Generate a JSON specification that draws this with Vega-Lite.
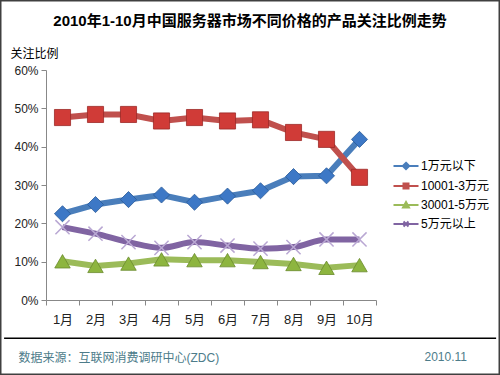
{
  "$schema": "https://vega.github.io/schema/vega-lite/v6.json",
  "width": 330,
  "height": 230,
  "autosize": "none",
  "padding": {"left": 46, "top": 70, "right": 124, "bottom": 75},
  "background": "white",
  "config": {"font": "Liberation Sans, Noto Sans CJK SC", "view": {"stroke": null}},
  "title": {"text": "2010年1-10月中国服务器市场不同价格的产品关注比例走势", "fontSize": 15, "fontWeight": "bold", "color": "#000", "anchor": "middle", "dx": 39, "dy": 33, "font": "Liberation Sans, Noto Sans CJK SC"},
  "data": {"values": [
    {"m": "1月", "s": "1万元以下", "v": 0.225},
    {"m": "2月", "s": "1万元以下", "v": 0.249},
    {"m": "3月", "s": "1万元以下", "v": 0.262},
    {"m": "4月", "s": "1万元以下", "v": 0.274},
    {"m": "5月", "s": "1万元以下", "v": 0.255},
    {"m": "6月", "s": "1万元以下", "v": 0.271},
    {"m": "7月", "s": "1万元以下", "v": 0.285},
    {"m": "8月", "s": "1万元以下", "v": 0.322},
    {"m": "9月", "s": "1万元以下", "v": 0.324},
    {"m": "10月", "s": "1万元以下", "v": 0.419},
    {"m": "1月", "s": "10001-3万元", "v": 0.476},
    {"m": "2月", "s": "10001-3万元", "v": 0.484},
    {"m": "3月", "s": "10001-3万元", "v": 0.484},
    {"m": "4月", "s": "10001-3万元", "v": 0.467},
    {"m": "5月", "s": "10001-3万元", "v": 0.476},
    {"m": "6月", "s": "10001-3万元", "v": 0.467},
    {"m": "7月", "s": "10001-3万元", "v": 0.470},
    {"m": "8月", "s": "10001-3万元", "v": 0.437},
    {"m": "9月", "s": "10001-3万元", "v": 0.419},
    {"m": "10月", "s": "10001-3万元", "v": 0.320},
    {"m": "1月", "s": "30001-5万元", "v": 0.101},
    {"m": "2月", "s": "30001-5万元", "v": 0.089},
    {"m": "3月", "s": "30001-5万元", "v": 0.095},
    {"m": "4月", "s": "30001-5万元", "v": 0.106},
    {"m": "5月", "s": "30001-5万元", "v": 0.104},
    {"m": "6月", "s": "30001-5万元", "v": 0.104},
    {"m": "7月", "s": "30001-5万元", "v": 0.099},
    {"m": "8月", "s": "30001-5万元", "v": 0.094},
    {"m": "9月", "s": "30001-5万元", "v": 0.084},
    {"m": "10月", "s": "30001-5万元", "v": 0.091},
    {"m": "1月", "s": "5万元以上", "v": 0.190},
    {"m": "2月", "s": "5万元以上", "v": 0.173},
    {"m": "3月", "s": "5万元以上", "v": 0.151},
    {"m": "4月", "s": "5万元以上", "v": 0.136},
    {"m": "5月", "s": "5万元以上", "v": 0.151},
    {"m": "6月", "s": "5万元以上", "v": 0.142},
    {"m": "7月", "s": "5万元以上", "v": 0.134},
    {"m": "8月", "s": "5万元以上", "v": 0.138},
    {"m": "9月", "s": "5万元以上", "v": 0.158},
    {"m": "10月", "s": "5万元以上", "v": 0.158}
  ]},
  "encoding": {
    "x": {"field": "m", "type": "ordinal", "sort": ["1月","2月","3月","4月","5月","6月","7月","8月","9月","10月"],
      "scale": {"type": "band", "paddingInner": 0, "paddingOuter": 0},
      "axis": {"labelAngle": 0, "tickBand": "extent", "domainColor": "#888", "tickColor": "#888", "tickSize": 5, "labelFontSize": 13, "labelColor": "#222", "labelPadding": 8,
        "title": "数据来源：互联网消费调研中心(ZDC)", "titleX": -28, "titleY": 57, "titleAlign": "left", "titleAnchor": "start", "titleBaseline": "middle", "titleFontWeight": "normal", "titleFontSize": 12, "titleColor": "#4d7c8a"}},
    "y": {"field": "v", "type": "quantitative", "scale": {"domain": [0, 0.6]},
      "axis": {"format": ".0%", "values": [0, 0.1, 0.2, 0.3, 0.4, 0.5, 0.6], "grid": false, "domainColor": "#888", "tickColor": "#888", "tickSize": 5, "labelFontSize": 12, "labelColor": "#222", "labelPadding": 3,
        "title": "关注比例", "titleAngle": 0, "titleX": -36, "titleY": -17, "titleAlign": "left", "titleBaseline": "middle", "titleFontWeight": "normal", "titleFontSize": 12, "titleColor": "#000"}}
  },
  "layer": [
    {"transform": [{"filter": "datum.s === '1万元以下'"}],
     "mark": {"type": "line", "strokeWidth": 6, "color": "#4a7ebb"}, "encoding": {}},
    {"transform": [{"filter": "datum.s === '10001-3万元'"}],
     "mark": {"type": "line", "strokeWidth": 6, "color": "#c0504d"}, "encoding": {}},
    {"transform": [{"filter": "datum.s === '30001-5万元'"}],
     "mark": {"type": "line", "strokeWidth": 6, "color": "#9bbb59"}, "encoding": {}},
    {"transform": [{"filter": "datum.s === '5万元以上'"}],
     "mark": {"type": "line", "strokeWidth": 6, "color": "#8064a2", "interpolate": "monotone"}, "encoding": {}},
    {"transform": [{"filter": "datum.s === '1万元以下'"}],
     "mark": {"type": "point", "shape": "diamond", "filled": true, "size": 260, "color": "#3d78c6", "stroke": "#2a5a98", "strokeWidth": 0.8, "opacity": 1}},
    {"transform": [{"filter": "datum.s === '10001-3万元'"}],
     "mark": {"type": "point", "shape": "square", "filled": true, "size": 260, "color": "#d03b37", "stroke": "#9c2a27", "strokeWidth": 0.8, "opacity": 1}},
    {"transform": [{"filter": "datum.s === '30001-5万元'"}],
     "mark": {"type": "point", "shape": "triangle-up", "filled": true, "size": 240, "color": "#8db53f", "stroke": "#6a8a2c", "strokeWidth": 0.8, "opacity": 1}},
    {"transform": [{"filter": "datum.s === '5万元以上'"}],
     "mark": {"type": "point", "shape": "M-1,-1L1,1M-1,1L1,-1", "filled": false, "size": 200, "color": "#b9a7d3", "strokeWidth": 1.5, "opacity": 1}},
    {"mark": {"type": "point", "filled": true, "opacity": 0},
     "encoding": {
       "color": {"field": "s", "type": "nominal",
         "scale": {"domain": ["1万元以下","10001-3万元","30001-5万元","5万元以上"], "range": ["#4a7ebb","#c0504d","#9bbb59","#8064a2"]},
         "legend": {"orient": "none", "legendX": 349, "legendY": 85, "title": null, "symbolSize": 400, "labelFontSize": 12, "labelColor": "#000", "rowPadding": 1, "labelOffset": 4, "symbolStrokeWidth": 2, "symbolOpacity": 1,
           "encode": {"symbols": {"update": {"stroke": {"scale": "color", "field": "value"}, "strokeWidth": {"value": 2}, "opacity": {"value": 1}}}}}},
       "shape": {"field": "s", "type": "nominal",
         "scale": {"domain": ["1万元以下","10001-3万元","30001-5万元","5万元以上"],
           "range": ["M-1.25,0H1.25M0,-0.32L0.32,0L0,0.32L-0.32,0Z", "M-1.25,0H1.25M-0.25,-0.25H0.25V0.25H-0.25Z", "M-1.25,0H1.25M0,-0.3L0.3,0.26H-0.3Z", "M-1.25,0H1.25M-0.25,-0.25L0.25,0.25M-0.25,0.25L0.25,-0.25"]}}
     }},
    {"transform": [{"filter": "datum.s === '1万元以下' && datum.m === '10月'"}],
     "mark": {"type": "text", "align": "left", "baseline": "middle", "dx": 65, "fontSize": 12, "color": "#4d7c8a", "text": "2010.11"},
     "encoding": {"y": {"datum": -0.148}}},
    {"transform": [{"filter": "datum.s === '1万元以下' && datum.m === '1月'"}],
     "mark": {"type": "rule", "color": "#000", "strokeWidth": 1.5},
     "encoding": {"x": {"field": "m", "type": "ordinal", "bandPosition": -1.27}, "x2": {"field": "m", "bandPosition": 13.64}, "y": {"datum": -0.1}}},
    {"transform": [{"filter": "datum.s === '1万元以下' && datum.m === '1月'"}],
     "mark": {"type": "rect", "filled": false, "stroke": "#404040", "strokeWidth": 1.5},
     "encoding": {"x": {"field": "m", "type": "ordinal", "bandPosition": -1.3712}, "x2": {"field": "m", "bandPosition": 13.735}, "y": {"datum": 0.7807}, "y2": {"datum": -0.1937}}}
  ]
}
